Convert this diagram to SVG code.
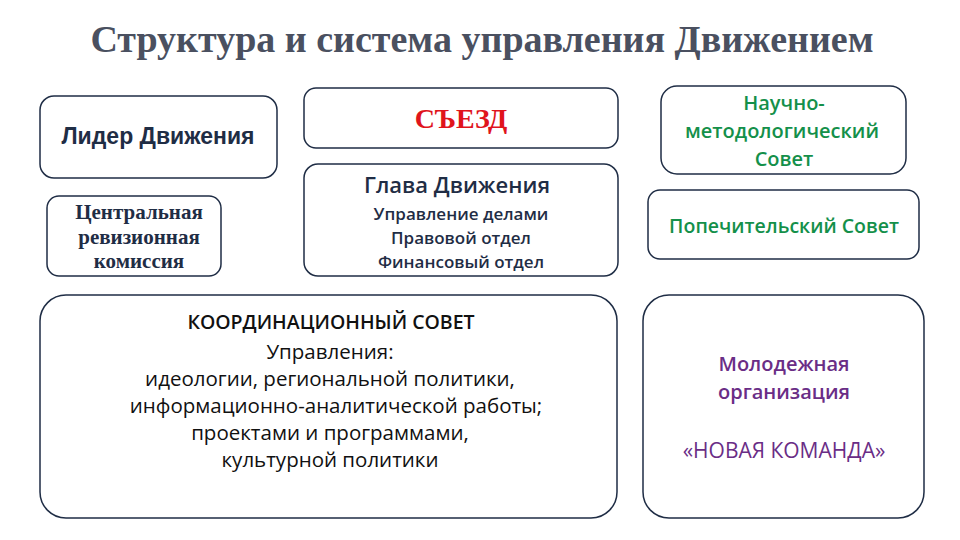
<svg xmlns="http://www.w3.org/2000/svg" width="960" height="540" viewBox="0 0 960 540">
<style>
.b{fill:#fff;stroke:#1f2d45;stroke-width:1.5}
.s{font-family:"Open Sans","Liberation Sans",sans-serif;text-anchor:middle}
.a{font-family:"Liberation Sans",sans-serif;font-weight:bold;text-anchor:middle}
.r{font-family:"Liberation Serif",serif;font-weight:bold;text-anchor:middle}
</style>
<rect width="960" height="540" fill="#fff"/>
<text x="482" y="52" font-family="Liberation Serif,serif" font-weight="bold" font-size="38" fill="#4a5060" text-anchor="middle">Структура и система управления Движением</text>
<g id="leader"><rect class="b" x="40" y="96" width="237" height="82" rx="14"/><text class="a" x="158" y="144" font-size="23" fill="#1f2d45">Лидер Движения</text></g>
<g id="congress"><rect class="b" x="304" y="88" width="314" height="60" rx="12"/><text class="r" x="461" y="128" font-size="28" fill="#e0141c">СЪЕЗД</text></g>
<g id="head"><rect class="b" x="304" y="164" width="314" height="112" rx="14"/>
<text class="s" x="457" y="193" font-size="22" font-weight="600" fill="#1f2d45">Глава Движения</text>
<text class="s" x="461" y="220" font-size="17" font-weight="600" fill="#1f2d45">Управление делами</text>
<text class="s" x="461" y="244" font-size="17" font-weight="600" fill="#1f2d45">Правовой отдел</text>
<text class="s" x="461" y="268" font-size="17" font-weight="600" fill="#1f2d45">Финансовый отдел</text></g>
<g id="audit"><rect class="b" x="47" y="196" width="174" height="80" rx="12"/>
<text class="r" x="139" y="219" font-size="21" fill="#1f2d45">Центральная</text>
<text class="r" x="139" y="244" font-size="21" fill="#1f2d45">ревизионная</text>
<text class="r" x="139" y="268" font-size="21" fill="#1f2d45">комиссия</text></g>
<g id="coord"><rect class="b" x="40" y="295" width="577" height="223" rx="26"/>
<text class="s" x="331" y="329" font-size="19.5" font-weight="600" fill="#111">КООРДИНАЦИОННЫЙ СОВЕТ</text>
<g class="s" font-size="20.5" fill="#111">
<text x="330" y="359">Управления:</text>
<text x="330" y="386">идеологии, региональной политики,</text>
<text x="336" y="413">информационно-аналитической работы;</text>
<text x="330" y="440">проектами и программами,</text>
<text x="330" y="467">культурной политики</text></g></g>
<g id="science"><rect class="b" x="661" y="86" width="245" height="88" rx="16"/>
<g class="s" font-size="20" font-weight="600" fill="#14904a">
<text x="784" y="110">Научно-</text><text x="782" y="138">методологический</text><text x="784" y="166">Совет</text></g></g>
<g id="trustees"><rect class="b" x="648" y="190" width="271" height="69" rx="12"/>
<text class="s" x="784" y="233" font-size="19.5" font-weight="600" fill="#14904a">Попечительский Совет</text></g>
<g id="youth"><rect class="b" x="643" y="295" width="281" height="223" rx="26"/>
<g class="s" fill="#6a2d86"><text x="784" y="371" font-size="20" font-weight="600">Молодежная</text>
<text x="784" y="399" font-size="20" font-weight="600">организация</text>
<text x="784" y="458" font-size="21">«НОВАЯ КОМАНДА»</text></g></g>
<g id="connectors"/>
</svg>
